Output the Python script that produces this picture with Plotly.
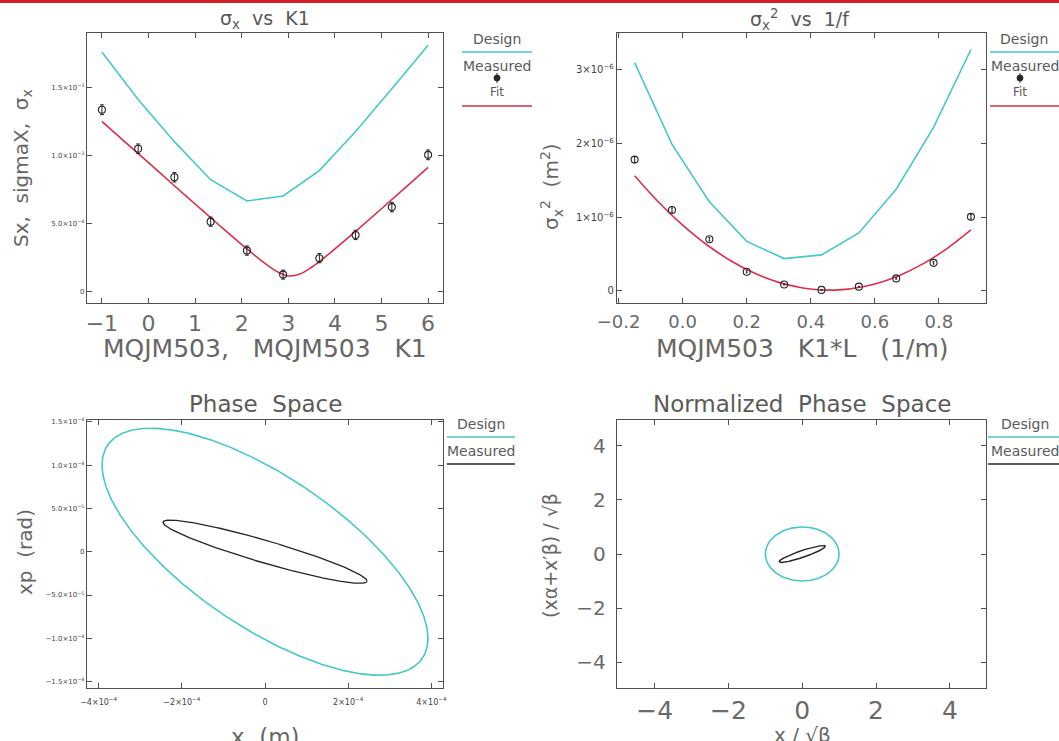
import numpy as np
import plotly.graph_objects as go

W, H = 1059, 741

# ---- quadrupole scan data -------------------------------------------------
k1 = [-1.0, -0.2222, 0.5556, 1.3333, 2.1111, 2.8889, 3.6667, 4.4444, 5.2222, 6.0]
quad_len = 0.15  # m, used for the K1*L axis
sig_meas = [1.335e-3, 1.048e-3, 0.838e-3, 0.511e-3, 0.298e-3,
            0.121e-3, 0.242e-3, 0.413e-3, 0.618e-3, 1.003e-3]
sig_err = [3.6e-5, 3.5e-5, 3.5e-5, 3.4e-5, 3.4e-5,
           3.3e-5, 3.4e-5, 3.4e-5, 3.5e-5, 3.6e-5]
sig_design = [1.76e-3, 1.41e-3, 1.10e-3, 0.82e-3, 0.663e-3,
              0.70e-3, 0.887e-3, 1.175e-3, 1.49e-3, 1.81e-3]

# fitted beam size along the scan
k1_fit = [-1.0, -0.5, 0.0, 0.5, 1.0, 1.5, 2.0, 2.5, 2.75, 3.0,
          3.25, 3.5, 4.0, 4.5, 5.0, 5.5, 6.0]
sig_fit = [1.250e-3, 1.097e-3, 0.945e-3, 0.792e-3, 0.641e-3, 0.490e-3,
           0.342e-3, 0.203e-3, 0.145e-3, 0.111e-3, 0.125e-3, 0.175e-3,
           0.310e-3, 0.456e-3, 0.606e-3, 0.758e-3, 0.910e-3]

# ---- Twiss parameters at the reconstruction point --------------------------
eps_design, alpha_design, beta_design = 3.98e-8, 0.985, 3.86
eps_meas, alpha_meas, beta_meas = 3.3e-9, 2.52, 18.26

CYAN = "#46c9c6"
RED = "#dc2f4c"
INK = "#262626"
TXT = "#5a5a5a"
FONT = "DejaVu Sans"
SP = "\u00a0\u00a0"
SP3 = "\u00a0\u00a0\u00a0"


def ellipse(eps, alpha, beta, n=721):
    t = np.linspace(0.0, 2.0 * np.pi, n)
    x = np.sqrt(eps * beta) * np.cos(t)
    xp = -np.sqrt(eps / beta) * (alpha * np.cos(t) + np.sin(t))
    return x, xp


def normalize(x, xp):
    sb = np.sqrt(beta_design)
    scale = np.sqrt(eps_design)
    return x / sb / scale, (alpha_design * x + beta_design * xp) / sb / scale


k1_arr = np.array(k1)
kl = k1_arr * quad_len
kl_fit = np.array(k1_fit) * quad_len
sm = np.array(sig_meas)
se = np.array(sig_err)

fig = go.Figure()

# sigma vs K1
fig.add_trace(go.Scatter(x=k1, y=sig_design, mode="lines",
                         line=dict(color=CYAN, width=1.6), xaxis="x", yaxis="y"))
fig.add_trace(go.Scatter(x=k1_fit, y=sig_fit, mode="lines", line_shape="spline",
                         line=dict(color=RED, width=1.6), xaxis="x", yaxis="y"))
fig.add_trace(go.Scatter(x=k1, y=sig_meas, mode="markers",
                         marker=dict(symbol="circle-open", size=7, color=INK,
                                     line=dict(width=1.1, color=INK)),
                         error_y=dict(type="data", array=sig_err, color=INK,
                                      thickness=1, width=2),
                         xaxis="x", yaxis="y"))

# sigma^2 vs K1*L
fig.add_trace(go.Scatter(x=kl, y=np.array(sig_design) ** 2, mode="lines",
                         line=dict(color=CYAN, width=1.6), xaxis="x2", yaxis="y2"))
fig.add_trace(go.Scatter(x=kl_fit, y=np.array(sig_fit) ** 2, mode="lines",
                         line_shape="spline",
                         line=dict(color=RED, width=1.6), xaxis="x2", yaxis="y2"))
fig.add_trace(go.Scatter(x=kl, y=sm ** 2, mode="markers",
                         marker=dict(symbol="circle-open", size=7, color=INK,
                                     line=dict(width=1.1, color=INK)),
                         error_y=dict(type="data", array=2 * sm * se * 0.4,
                                      color=INK, thickness=1, width=1),
                         xaxis="x2", yaxis="y2"))

# phase space
xd, xpd = ellipse(eps_design, alpha_design, beta_design)
xm, xpm = ellipse(eps_meas, alpha_meas, beta_meas)
fig.add_trace(go.Scatter(x=xd, y=xpd, mode="lines",
                         line=dict(color=CYAN, width=1.6), xaxis="x3", yaxis="y3"))
fig.add_trace(go.Scatter(x=xm, y=xpm, mode="lines",
                         line=dict(color=INK, width=1.3), xaxis="x3", yaxis="y3"))

# normalized phase space
nxd, npd = normalize(xd, xpd)
nxm, npm = normalize(xm, xpm)
fig.add_trace(go.Scatter(x=nxd, y=npd, mode="lines",
                         line=dict(color=CYAN, width=1.6), xaxis="x4", yaxis="y4"))
fig.add_trace(go.Scatter(x=nxm, y=npm, mode="lines",
                         line=dict(color=INK, width=1.4), xaxis="x4", yaxis="y4"))


def px(v):
    return v / W


def py(v):
    return 1.0 - v / H


def sci(m, e):
    return f"{m}×10<sup>−{e}</sup>"


axis_common = dict(showline=True, linecolor="#505050", linewidth=1.4, mirror="ticks",
                   ticks="inside", ticklen=5, tickcolor="#505050", tickwidth=1,
                   showgrid=False, zeroline=False, fixedrange=True, automargin=False)

fig.update_layout(
    width=W, height=H, autosize=False,
    margin=dict(l=0, r=0, t=0, b=0),
    paper_bgcolor="white", plot_bgcolor="white",
    showlegend=False,
    font=dict(family=FONT, color=TXT),
    xaxis=dict(**axis_common, domain=[px(87), px(443)], anchor="y",
               range=[-1.32, 6.32], tickvals=[-1, 0, 1, 2, 3, 4, 5, 6],
               ticktext=["−1", "0", "1", "2", "3", "4", "5", "6"],
               tickfont=dict(size=22, color="#6a6a6a"), ticklabelstandoff=0),
    yaxis=dict(**axis_common, domain=[py(303), py(33)], anchor="x",
               range=[-8.8e-5, 1.9e-3], tickvals=[0, 5e-4, 1e-3, 1.5e-3],
               ticktext=["0", sci("5.0", 4), sci("1.0", 3), sci("1.5", 3)],
               tickfont=dict(size=7, color="#444")),
    xaxis2=dict(**axis_common, domain=[px(617), px(986)], anchor="y2",
                range=[-0.205, 0.947], tickvals=[-0.2, 0.0, 0.2, 0.4, 0.6, 0.8],
                ticktext=["−0.2", "0.0", "0.2", "0.4", "0.6", "0.8"],
                tickfont=dict(size=18, color="#6a6a6a"), ticklabelstandoff=2),
    yaxis2=dict(**axis_common, domain=[py(303), py(33)], anchor="x2",
                range=[-1.63e-7, 3.5e-6], tickvals=[0, 1e-6, 2e-6, 3e-6],
                ticktext=["0", sci("1", 6), sci("2", 6), sci("3", 6)],
                tickfont=dict(size=10, color="#444")),
    xaxis3=dict(**axis_common, domain=[px(87), px(443)], anchor="y3",
                range=[-4.28e-4, 4.28e-4], tickvals=[-4e-4, -2e-4, 0, 2e-4, 4e-4],
                ticktext=["−" + sci("4", 4), "−" + sci("2", 4), "0",
                          sci("2", 4), sci("4", 4)],
                tickfont=dict(size=8, color="#444"), ticklabelstandoff=6),
    yaxis3=dict(**axis_common, domain=[py(688), py(420)], anchor="x3",
                range=[-1.573e-4, 1.52e-4],
                tickvals=[-1.5e-4, -1e-4, -5e-5, 0, 5e-5, 1e-4, 1.5e-4],
                ticktext=["−" + sci("1.5", 4), "−" + sci("1.0", 4), "−" + sci("5.0", 5),
                          "0", sci("5.0", 5), sci("1.0", 4), sci("1.5", 4)],
                tickfont=dict(size=7, color="#444")),
    xaxis4=dict(**axis_common, domain=[px(617), px(986)], anchor="y4",
                range=[-5.02, 4.98], tickvals=[-4, -2, 0, 2, 4],
                ticktext=["−4", "−2", "0", "2", "4"],
                tickfont=dict(size=25, color="#6a6a6a"), ticklabelstandoff=0),
    yaxis4=dict(**axis_common, domain=[py(688), py(420)], anchor="x4",
                range=[-4.96, 4.96], tickvals=[-4, -2, 0, 2, 4],
                ticktext=["−4", "−2", "0", "2", "4"],
                tickfont=dict(size=20, color="#6a6a6a"), ticklabelstandoff=6),
)

ann = []


def text(x, y, s, size, angle=0, color=TXT):
    ann.append(dict(x=px(x), y=py(y), xref="paper", yref="paper", text=s,
                    showarrow=False, textangle=angle, xanchor="center",
                    yanchor="middle", font=dict(size=size, color=color, family=FONT)))


# panel titles
text(265, 19, f"σ<sub>x</sub>{SP}vs{SP}K1", 19)
text(800, 19, f"σ<sub>x</sub><sup>2</sup>{SP}vs{SP}1/f", 19)
text(265, 404, f"Phase{SP}Space", 23)
text(802, 404, f"Normalized{SP}Phase{SP}Space", 23)

# axis titles
text(265, 348, f"MQJM503,{SP3}MQJM503{SP3}K1", 25, color="#666")
text(802, 348, f"MQJM503{SP3}K1*L{SP3}(1/m)", 25, color="#666")
text(265, 737, f"x{SP}(m)", 23, color="#666")
text(802, 735, "x\u00a0/\u00a0√β", 20, color="#666")
text(22, 168, f"Sx,{SP}sigmaX,{SP}σ<sub>x</sub>", 20, angle=-90, color="#666")
text(551, 187, f"σ<sub>x</sub><sup>2</sup>{SP}(m<sup>2</sup>)", 20, angle=-90, color="#666")
text(25, 552, f"xp{SP}(rad)", 20, angle=-90, color="#666")
text(550, 556, "(xα+x′β)\u00a0/\u00a0√β", 19, angle=-90, color="#666")

# legend blocks
text(497, 39, "Design", 14)
text(497, 66, "Measured", 14)
text(497, 92, "Fit", 12)
text(1024, 39, "Design", 14)
text(1025, 66, "Measured", 14)
text(1020, 92, "Fit", 12)
text(481, 424, "Design", 14)
text(481, 451, "Measured", 14)
text(1025, 424, "Design", 14)
text(1025, 451, "Measured", 14)

shapes = [
    dict(type="rect", xref="paper", yref="paper", x0=0, x1=1, y0=py(3), y1=1,
         fillcolor="#d21f24", line=dict(width=0)),
]


def hline(x0, x1, y, color, width=1.6):
    shapes.append(dict(type="line", xref="paper", yref="paper", x0=px(x0), x1=px(x1),
                       y0=py(y), y1=py(y), line=dict(color=color, width=width)))


def legend_marker(cx, cy):
    shapes.append(dict(type="circle", xref="paper", yref="paper",
                       x0=px(cx - 3), x1=px(cx + 3), y0=py(cy + 3), y1=py(cy - 3),
                       fillcolor=INK, line=dict(color=INK, width=1)))
    shapes.append(dict(type="line", xref="paper", yref="paper", x0=px(cx), x1=px(cx),
                       y0=py(cy + 5), y1=py(cy - 5), line=dict(color=INK, width=1)))


hline(462, 532, 52, CYAN)
hline(462, 532, 106, RED)
legend_marker(497, 78)
hline(990, 1059, 52, CYAN)
hline(990, 1059, 106, RED)
legend_marker(1020, 78)
hline(447, 515, 437, CYAN)
hline(447, 515, 464, INK, 1.3)
hline(988, 1059, 437, CYAN)
hline(988, 1059, 464, INK, 1.3)

fig.update_layout(annotations=ann, shapes=shapes)
fig.write_html("out.html")
